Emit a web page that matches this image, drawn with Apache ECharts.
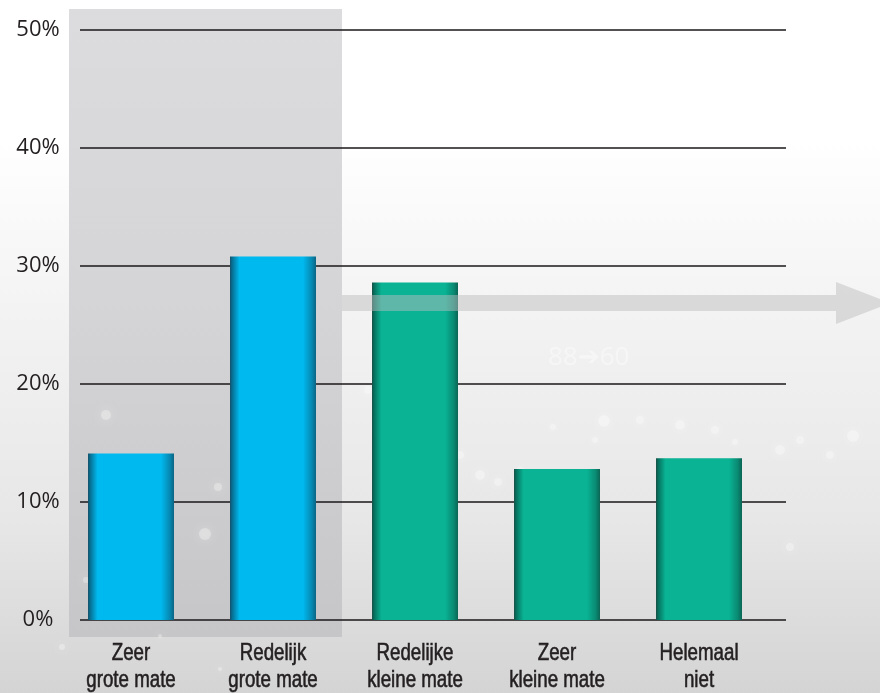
<!DOCTYPE html>
<html>
<head>
<meta charset="utf-8">
<script src="https://cdn.jsdelivr.net/npm/echarts@6/dist/echarts.min.js"></script>
<style>
  html, body { margin: 0; padding: 0; background: #ffffff; }
  #chart { width: 880px; height: 693px; }
</style>
</head>
<body>
<div id="chart"></div>
<script>
// Answer categories (two lines each) and their shares in percent
const categories = [
  'Zeer\ngrote mate',
  'Redelijk\ngrote mate',
  'Redelijke\nkleine mate',
  'Zeer\nkleine mate',
  'Helemaal\nniet'
];
const shares = [14.1, 30.8, 28.6, 12.8, 13.7];
// Which answers belong to the "large extent" group (blue) vs the rest (green)
const groups = ['groot', 'groot', 'klein', 'klein', 'klein'];
// Percent axis
const yTicks = [0, 10, 20, 30, 40, 50];

const barFill = {
  groot: ['#15506a', '#066f92', '#00b9ef', '#00b9ef', '#0689b2', '#0b6483'],
  klein: ['#1a4f45', '#06705e', '#09b394', '#09b394', '#0a8a73', '#0b6555']
};
function bevel(stops) {
  return {
    type: 'linear', x: 0, y: 0, x2: 1, y2: 0,
    colorStops: [
      { offset: 0, color: stops[0] },
      { offset: 0.025, color: stops[1] },
      { offset: 0.11, color: stops[2] },
      { offset: 0.85, color: stops[3] },
      { offset: 0.95, color: stops[4] },
      { offset: 1, color: stops[5] }
    ]
  };
}

const chart = echarts.init(document.getElementById('chart'), null, { renderer: 'canvas' });

const textColor = '#231f20';
const yMin = yTicks[0];
const yMax = yTicks[yTicks.length - 1];
const yStep = yTicks[1] - yTicks[0];

// soft bokeh specks in the lower part of the backdrop
const specks = [
  [106, 415, 5], [205, 534, 6], [218, 487, 4], [262, 575, 3], [86, 580, 3],
  [604, 421, 6], [640, 420, 4], [680, 425, 5], [715, 430, 4], [735, 442, 3],
  [780, 450, 5], [800, 440, 4], [853, 436, 6], [830, 455, 4], [553, 427, 3],
  [460, 455, 4], [480, 475, 5], [498, 482, 4], [520, 470, 3], [595, 440, 3],
  [62, 647, 3], [220, 669, 2], [160, 636, 2], [790, 547, 4], [368, 390, 4]
];

const graphics = [
  // backdrop
  {
    type: 'rect', z: -100, silent: true,
    shape: { x: 0, y: 0, width: 880, height: 693 },
    style: {
      fill: {
        type: 'linear', x: 0, y: 0, x2: 0, y2: 1,
        colorStops: [
          { offset: 0, color: '#ffffff' },
          { offset: 0.2, color: '#ffffff' },
          { offset: 0.45, color: '#f3f3f3' },
          { offset: 0.75, color: '#e7e7e7' },
          { offset: 1, color: '#d4d4d4' }
        ]
      }
    }
  },
  // highlighted panel behind the first two answers
  {
    type: 'rect', z: -50, silent: true,
    shape: { x: 69, y: 9, width: 273, height: 628 },
    style: {
      fill: {
        type: 'linear', x: 0, y: 0, x2: 0, y2: 1,
        colorStops: [
          { offset: 0, color: '#dcdcde' },
          { offset: 0.5, color: '#d4d4d6' },
          { offset: 1, color: '#c6c6c8' }
        ]
      }
    }
  },
  // faint backdrop lettering
  {
    type: 'text', z: -40, silent: true,
    style: {
      x: 548, y: 358, text: '88\u279460', fill: 'rgba(255,255,255,0.4)',
      font: '26px "Open Sans", sans-serif', verticalAlign: 'middle'
    }
  },
  // arrow pointing right from the panel
  {
    type: 'polygon', z: 20, silent: true,
    shape: {
      points: [[342, 295], [836, 295], [836, 282], [890, 303], [836, 324], [836, 311], [342, 311]]
    },
    style: { fill: 'rgba(189,189,191,0.48)' }
  }
];
specks.forEach(function (s) {
  graphics.push({
    type: 'circle', z: -30, silent: true,
    shape: { cx: s[0], cy: s[1], r: s[2] },
    style: { fill: 'rgba(255,255,255,0.3)', shadowBlur: 8, shadowColor: 'rgba(255,255,255,0.7)' }
  });
});

const option = {
  animation: false,
  grid: [
    { left: 60, right: 110, top: 30, bottom: 73 },
    { left: 80, right: 94, top: 30, bottom: 73 }
  ],
  xAxis: [
    {
      type: 'category', gridIndex: 0, data: categories,
      axisLine: { show: false }, axisTick: { show: false }, splitLine: { show: false },
      axisLabel: { show: false }
    },
    { type: 'value', gridIndex: 1, show: false, min: 0, max: 1 }
  ],
  yAxis: [
    { type: 'value', gridIndex: 0, min: yMin, max: yMax, interval: yStep, show: false },
    {
      type: 'value', gridIndex: 1, min: yMin, max: yMax, interval: yStep,
      axisLine: { show: false }, axisTick: { show: false },
      axisLabel: {
        formatter: '{value}%', color: textColor, fontSize: 22, align: 'center', margin: 42,
        fontFamily: '"Open Sans", "Noto Sans", sans-serif'
      },
      splitLine: { show: true, lineStyle: { color: '#1a1718', width: 1.6 } }
    }
  ],
  series: [
    {
      type: 'bar', xAxisIndex: 0, yAxisIndex: 0, barWidth: 86, z: 5,
      data: shares.map(function (v, i) {
        return { value: v, itemStyle: { color: bevel(barFill[groups[i]]) } };
      })
    }
  ]
};

chart.setOption(option);

// Category names in a condensed face, placed under each bar via the category axis
const baseY = chart.convertToPixel({ yAxisIndex: 0 }, yMin);
categories.forEach(function (name, i) {
  const cx = chart.convertToPixel({ xAxisIndex: 0 }, i);
  graphics.push({
    type: 'text', z: 30, silent: true,
    x: cx, y: baseY + 20, scaleX: 0.78, originX: 0, originY: 0,
    style: {
      x: 0, y: 0, text: name, fill: textColor, align: 'center', verticalAlign: 'top',
      font: '24px "Liberation Sans", Arial, sans-serif', lineHeight: 27,
      stroke: textColor, lineWidth: 0.6
    }
  });
});

chart.setOption({ graphic: graphics });
</script>
</body>
</html>
